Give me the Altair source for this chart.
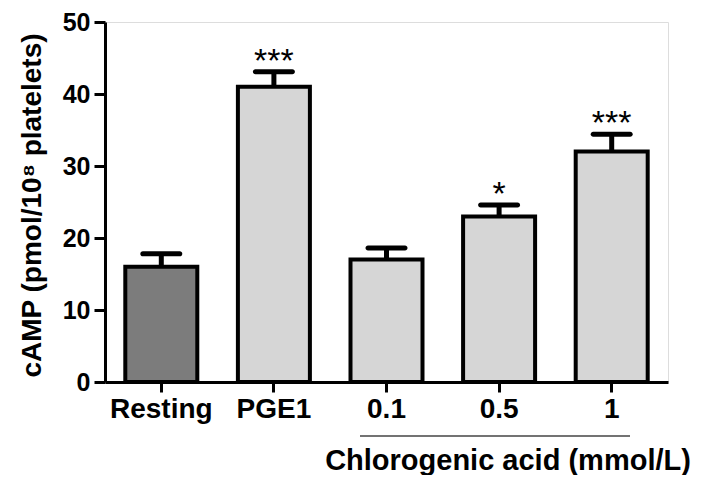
import altair as alt
import pandas as pd

groups = ["Resting", "PGE1", "0.1", "0.5", "1"]
means = [16.0, 41.0, 17.0, 23.0, 32.0]
errors = [1.8, 2.1, 1.6, 1.6, 2.4]
stars = ["", "***", "", "*", "***"]
fills = ["#7c7c7c", "#d6d6d6", "#d6d6d6", "#d6d6d6", "#d6d6d6"]

df = pd.DataFrame({
    "group": groups,
    "mean": means,
    "upper": [m + e for m, e in zip(means, errors)],
    "star": stars,
    "fill": fills,
})

FONT = "Liberation Sans"

x = alt.X("group:N", sort=groups,
          scale=alt.Scale(paddingInner=0, paddingOuter=0),
          axis=alt.Axis(title=None, labelAngle=0, labelFont=FONT, labelFontSize=28,
                        labelFontWeight="bold", labelColor="black", tickSize=10,
                        tickWidth=3, tickColor="black", domainWidth=3,
                        domainColor="black", labelPadding=3))
yscale = alt.Scale(domain=[0, 50])

base = alt.Chart(df)

bars = base.mark_bar(size=72, stroke="black", strokeWidth=4).encode(
    x=x,
    y=alt.Y("mean:Q", scale=yscale,
            axis=alt.Axis(title="cAMP (pmol/10⁸ platelets)", values=[0, 10, 20, 30, 40, 50],
                          grid=False, labelFont=FONT, labelFontSize=25,
                          labelFontWeight="bold", labelColor="black", tickSize=11,
                          tickWidth=3, tickColor="black", domainWidth=3,
                          domainColor="black", titleFont=FONT, titleFontSize=28,
                          titleFontWeight="bold", titleColor="black", titlePadding=16,
                          titleY=183, labelPadding=4)),
    fill=alt.Fill("fill:N", scale=None),
)

err = base.mark_rule(strokeWidth=5, color="black").encode(
    x=alt.X("group:N", sort=groups),
    y=alt.Y("mean:Q", scale=yscale),
    y2="upper:Q",
)

caps = base.mark_tick(orient="horizontal", size=42, thickness=5, color="black",
                      opacity=1, cornerRadius=2.5).encode(
    x=alt.X("group:N", sort=groups),
    y=alt.Y("upper:Q", scale=yscale),
)

star_text = base.mark_text(font=FONT, fontSize=34, dy=0, color="black",
                           baseline="alphabetic").encode(
    x=alt.X("group:N", sort=groups),
    y=alt.Y("upper:Q", scale=yscale),
    text="star:N",
)

line = alt.Chart(pd.DataFrame({"a": [0]})).mark_rule(color="#444444", strokeWidth=1.5).encode(
    x=alt.value(255), x2=alt.value(525), y=alt.value(414))

label = alt.Chart(pd.DataFrame({"t": ["Chlorogenic acid (mmol/L)"]})).mark_text(
    font=FONT, fontSize=29, fontWeight="bold", color="black", align="center",
    baseline="middle").encode(x=alt.value(403), y=alt.value(439), text="t:N")

chart = alt.layer(bars, err, caps, star_text, line, label).properties(
    width=563, height=360,
    autosize=alt.AutoSizeParams(type="none"),
    padding={"left": 97, "top": 14, "right": 26, "bottom": 93},
).configure_view(stroke=None).configure(background="white")

chart.save("out.html", embed_options={"renderer": "svg", "actions": False})
